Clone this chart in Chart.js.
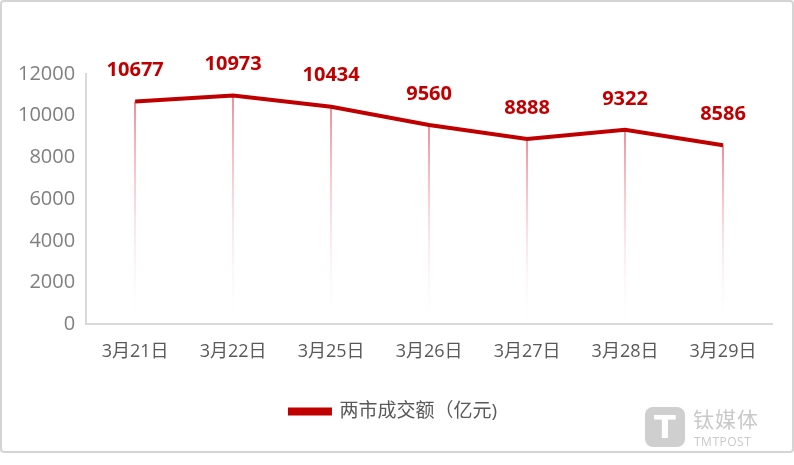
<!DOCTYPE html>
<html>
<head>
<meta charset="utf-8">
<script src="https://cdn.jsdelivr.net/npm/chart.js@4/dist/chart.umd.min.js"></script>
<style>
  body { margin: 0; background: #fff; }
  #wrap { position: relative; width: 794px; height: 465px; }
  #frame { position: absolute; left: 0; top: 0; width: 790px; height: 449px; border: 2px solid #d4d4d4; border-radius: 4px; pointer-events: none; }
  #mark { position: absolute; left: 645px; top: 407px; color: #c9c9c9; font-family: 'Noto Sans CJK SC', sans-serif; }
  #mark .logo { position: absolute; left: 0; top: 0; width: 40px; height: 40px; background: #cfcfcf; border-radius: 8px; }
  #mark .logo span { position: absolute; left: 0; top: 0; width: 40px; text-align: center; color: #fff; font: bold 32px 'DejaVu Sans', sans-serif; line-height: 40px; }
  #mark .cn { position: absolute; left: 48px; top: -4px; font-size: 21px; white-space: nowrap; letter-spacing: 1px; }
  #mark .en { position: absolute; left: 49px; top: 26px; font: 12px 'Open Sans', sans-serif; white-space: nowrap; letter-spacing: 0.5px; }
</style>
</head>
<body>
<div id="wrap">
  <canvas id="chart" width="794" height="465"></canvas>
  <div id="frame"></div>
  <div id="mark"><div class="logo"><span>T</span></div><div class="cn">钛媒体</div><div class="en">TMTPOST</div></div>
</div>
<script>
const dates = ['3月21日', '3月22日', '3月25日', '3月26日', '3月27日', '3月28日', '3月29日'];
const turnover = [10677, 10973, 10434, 9560, 8888, 9322, 8586];
const seriesName = '两市成交额（亿元)';

const RED = '#C00000';
const FONT = "'Open Sans', 'Noto Sans CJK SC', sans-serif";

// pink drop lines from each point down to the x axis, fading out
const dropLines = {
    id: 'dropLines',
    beforeDatasetsDraw(chart) {
        let ctx = chart.ctx;
        let bottom = chart.scales.y.getPixelForValue(0);
        let meta = chart.getDatasetMeta(0);
        ctx.save();
        meta.data.forEach(pt => {
            let x = Math.round(pt.x);
            let grad = ctx.createLinearGradient(0, pt.y, 0, bottom);
            grad.addColorStop(0, 'rgba(238,142,155,1)');
            grad.addColorStop(1, 'rgba(255,240,243,0)');
            ctx.strokeStyle = grad;
            ctx.lineWidth = 2;
            ctx.beginPath();
            ctx.moveTo(x, pt.y);
            ctx.lineTo(x, bottom);
            ctx.stroke();
        });
        ctx.restore();
    }
};

const valueLabels = {
    id: 'valueLabels',
    afterDatasetsDraw(chart) {
        let ctx = chart.ctx;
        let meta = chart.getDatasetMeta(0);
        ctx.save();
        ctx.fillStyle = RED;
        ctx.font = 'bold 20px ' + FONT;
        ctx.textAlign = 'center';
        ctx.textBaseline = 'middle';
        meta.data.forEach((pt, i) => {
            ctx.fillText(turnover[i], pt.x, pt.y - 31);
        });
        ctx.restore();
    }
};

new Chart(document.getElementById('chart'), {
    type: 'line',
    data: {
        labels: dates,
        datasets: [{
            label: seriesName,
            data: turnover,
            borderColor: RED,
            backgroundColor: RED,
            borderWidth: 4,
            pointRadius: 0,
            tension: 0
        }]
    },
    options: {
        responsive: false,
        animation: false,
        layout: { padding: { top: 74, left: 15, right: 22, bottom: 34 } },
        plugins: {
            tooltip: { enabled: false },
            legend: {
                position: 'bottom',
                labels: {
                    boxWidth: 40,
                    boxHeight: 4,
                    padding: 16,
                    color: '#595959',
                    font: { family: FONT, size: 19 }
                }
            }
        },
        scales: {
            x: {
                offset: true,
                grid: { display: false },
                border: { color: '#d9d9d9', width: 2 },
                ticks: { color: '#595959', padding: 9, font: { family: FONT, size: 18 } },
                afterFit(scale) { scale.height += 14; }
            },
            y: {
                min: 0,
                max: 12000,
                grid: { display: false },
                border: { color: '#d9d9d9', width: 2 },
                ticks: {
                    stepSize: 2000,
                    color: '#7f7f7f',
                    padding: 3,
                    font: { family: FONT, size: 20 },
                    callback: v => String(v)
                }
            }
        }
    },
    plugins: [dropLines, valueLabels]
});
</script>
</body>
</html>
